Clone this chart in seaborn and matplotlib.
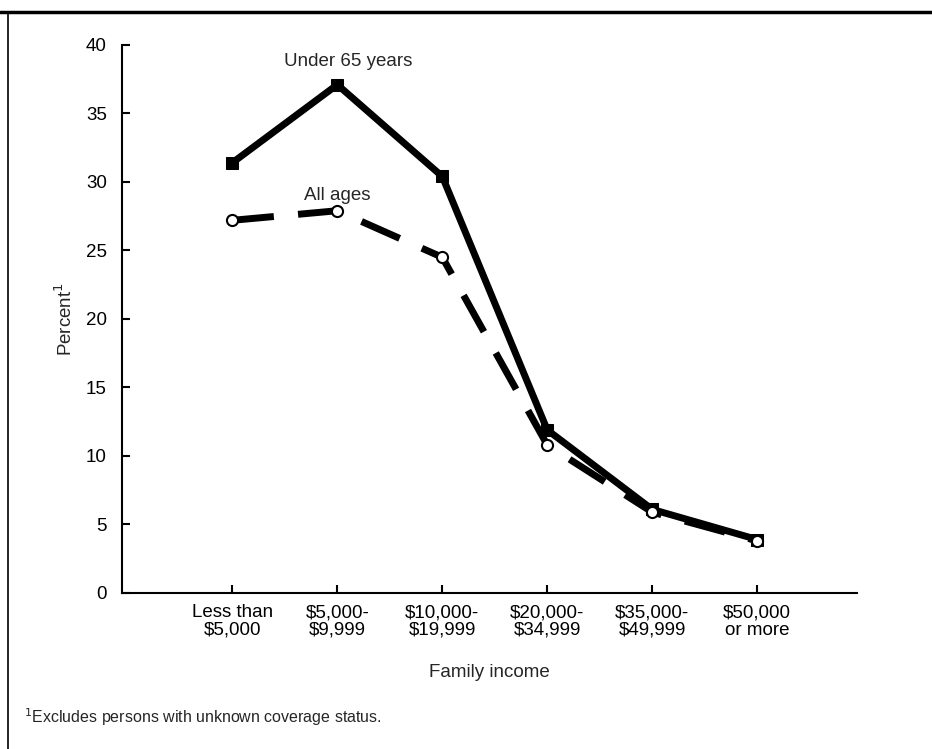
import matplotlib
matplotlib.use("Agg")
import matplotlib.pyplot as plt
import seaborn as sns
import pandas as pd

categories = ["Less than\n$5,000", "$5,000-\n$9,999", "$10,000-\n$19,999",
              "$20,000-\n$34,999", "$35,000-\n$49,999", "$50,000\nor more"]
under65 = [31.4, 37.1, 30.4, 11.9, 6.1, 3.9]
all_ages = [27.2, 27.9, 24.5, 10.8, 5.9, 3.8]
yticks = [0, 5, 10, 15, 20, 25, 30, 35, 40]

sns.set_theme(style="white")
plt.rcParams['font.family'] = ['Liberation Sans', 'DejaVu Sans']

pos = list(range(len(categories)))
df = pd.DataFrame({"x": pos + pos,
                   "y": under65 + all_ages,
                   "series": ["Under 65 years"] * 6 + ["All ages"] * 6})

fig = plt.figure(figsize=(9.32, 7.49), dpi=100)
ax = fig.add_axes([0.131, 0.2083, 0.7885, 0.7317])

sns.lineplot(data=df[df.series == "Under 65 years"], x="x", y="y", ax=ax,
             color="black", lw=5, marker="s", markersize=8,
             markerfacecolor="black", markeredgecolor="black", sort=False)
sns.lineplot(data=df[df.series == "All ages"], x="x", y="y", ax=ax,
             color="black", lw=5, linestyle=(0, (6, 3.5)), marker="o", markersize=8,
             markerfacecolor="white", markeredgecolor="black", markeredgewidth=1.5,
             sort=False)

ax.set_xlim(-1.05, 5.95)
ax.set_ylim(0, 40)
ax.set_yticks(yticks)
ax.set_yticklabels([str(t) for t in yticks], fontsize=13.5)
ax.set_xticks(pos)
ax.set_xticklabels(categories, fontsize=13.5, linespacing=1.05)
ax.tick_params(axis="both", direction="in", length=6, width=1.5, colors="black",
               left=True, bottom=True)
ax.tick_params(axis="x", pad=8)
ax.tick_params(axis="y", pad=11)
for s in ["top", "right"]:
    ax.spines[s].set_visible(False)
for s in ["left", "bottom"]:
    ax.spines[s].set_color("black")
    ax.spines[s].set_linewidth(1.5)

ax.set_xlabel("Family income", fontsize=13.5, labelpad=18)
ax.set_ylabel("Percent$^1$", fontsize=13.5, labelpad=7)

ax.text(1.1, 38.8, "Under 65 years", ha="center", va="center", fontsize=13.5)
ax.text(1.0, 29.0, "All ages", ha="center", va="center", fontsize=13.5)

fig.text(0.026, 0.042, "$^1$Excludes persons with unknown coverage status.",
         fontsize=11.5, ha="left", va="center")

# page frame lines
fig.add_artist(plt.Line2D([0, 1], [0.984, 0.984], transform=fig.transFigure,
                          color="black", lw=2.5))
fig.add_artist(plt.Line2D([0.009, 0.009], [0, 0.984], transform=fig.transFigure,
                          color="black", lw=1.2))

fig.savefig("out.png", dpi=100, facecolor="white")
